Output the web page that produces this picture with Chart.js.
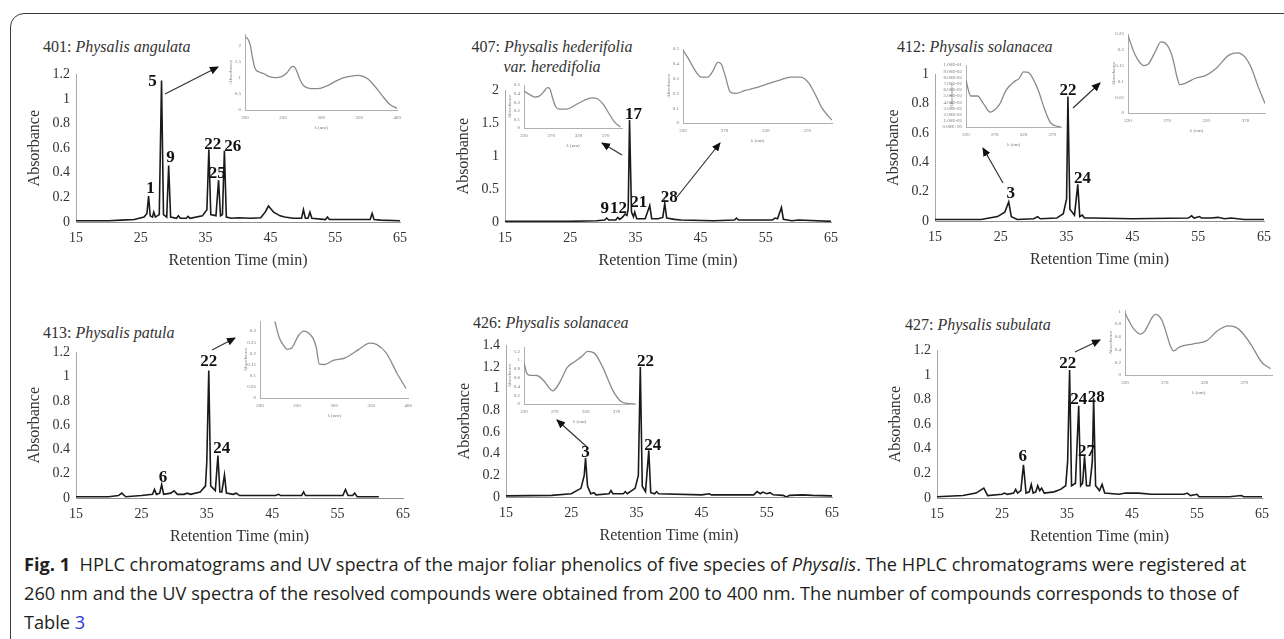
<!DOCTYPE html>
<html>
<head>
<meta charset="utf-8">
<script src="https://cdn.jsdelivr.net/npm/chart.js@4.4.1/dist/chart.umd.min.js"></script>
<style>
  body { margin: 0; width: 1284px; height: 639px; overflow: hidden; background: #fff; position: relative; }
  #frame { position: absolute; left: 10px; top: 13px; width: 1320px; height: 700px; border: 1.5px solid #3a3a3a; border-radius: 14px; }
  canvas { position: absolute; }
  .ttl { position: absolute; font: 16px 'Liberation Serif'; color: #333; white-space: nowrap; line-height: 20px; }
  .cap { position: absolute; left: 24px; font: 18.2px 'Open Sans'; color: #231f20; white-space: nowrap; line-height: 20px; }
  .cap a { color: #2a3cd6; text-decoration: none; }
  svg { position: absolute; left: 0; top: 0; }
</style>
</head>
<body>
<div id="frame"></div>

<div class="ttl" style="left:43px;top:37px">401: <i>Physalis angulata</i></div>
<div class="ttl" style="left:452px;top:37px;width:200px;text-align:center">407: <i>Physalis hederifolia</i><br><i>var. heredifolia</i></div>
<div class="ttl" style="left:897px;top:37px">412: <i>Physalis solanacea</i></div>
<div class="ttl" style="left:43px;top:323px">413: <i>Physalis patula</i></div>
<div class="ttl" style="left:473px;top:313px">426: <i>Physalis solanacea</i></div>
<div class="ttl" style="left:905px;top:315px">427: <i>Physalis subulata</i></div>

<div class="cap" style="top:554px"><b>Fig. 1</b>&nbsp; HPLC chromatograms and UV spectra of the major foliar phenolics of five species of <i>Physalis</i>. The HPLC chromatograms were registered at</div>
<div class="cap" style="top:583px">260 nm and the UV spectra of the resolved compounds were obtained from 200 to 400 nm. The number of compounds corresponds to those of</div>
<div class="cap" style="top:612px">Table <a>3</a></div>

<script>
// chromatograms: [retention time (min), absorbance]
var trace401 = [[15,0.01],[20,0.01],[22,0.015],[24,0.02],[25.5,0.04],[25.95,0.07],[26.2,0.21],[26.45,0.05],[26.8,0.04],[27.0,0.08],[27.25,0.04],[27.85,0.06],[28.2,1.15],[28.5,0.06],[29.0,0.04],[29.3,0.46],[29.6,0.04],[30.5,0.03],[30.8,0.05],[31.1,0.03],[32.0,0.03],[32.3,0.045],[32.6,0.03],[34.5,0.05],[35.2,0.1],[35.5,0.59],[35.8,0.06],[36.6,0.05],[37.0,0.34],[37.3,0.05],[37.6,0.06],[37.9,0.58],[38.2,0.04],[39,0.03],[40,0.035],[42,0.03],[43.5,0.035],[44.2,0.08],[44.7,0.13],[45.5,0.08],[46.5,0.05],[47.2,0.04],[48.5,0.03],[49.8,0.03],[50.1,0.1],[50.4,0.03],[50.8,0.03],[51.1,0.08],[51.4,0.03],[53.5,0.02],[53.8,0.04],[54.1,0.02],[56,0.02],[60.4,0.02],[60.7,0.07],[61,0.02],[62,0.015],[65,0.01]];
var trace407 = [[15,0.01],[25,0.01],[29,0.02],[30.3,0.03],[30.6,0.06],[30.9,0.03],[32,0.03],[32.3,0.07],[32.6,0.04],[33.1,0.08],[33.4,0.12],[33.7,0.1],[33.9,0.2],[34.1,1.55],[34.4,0.15],[34.7,0.08],[34.9,0.15],[35.2,0.05],[36.5,0.05],[37.2,0.25],[37.5,0.05],[38.5,0.05],[39.2,0.07],[39.5,0.28],[39.8,0.06],[41,0.04],[42,0.03],[47,0.02],[50.2,0.03],[50.5,0.06],[50.8,0.03],[56,0.03],[56.4,0.06],[56.8,0.05],[57.4,0.22],[57.7,0.04],[59,0.02],[60,0.03],[65,0.01]];
var trace412 = [[15,0.01],[22,0.01],[24.5,0.03],[25.6,0.06],[26.2,0.13],[26.6,0.03],[27.5,0.01],[30,0.015],[30.6,0.03],[31,0.015],[33.5,0.02],[34.5,0.05],[35.0,0.15],[35.2,0.85],[35.5,0.08],[36.2,0.04],[36.7,0.25],[37,0.03],[37.4,0.04],[37.7,0.02],[39,0.02],[45,0.015],[53.5,0.02],[54,0.035],[54.4,0.02],[55.2,0.03],[55.5,0.02],[57,0.02],[58,0.025],[59,0.015],[60,0.02],[62,0.01],[65,0.01]];
var trace413 = [[15,0.01],[20,0.01],[21.5,0.02],[22,0.04],[22.6,0.01],[25,0.02],[26.7,0.03],[27,0.07],[27.3,0.03],[27.8,0.04],[28.1,0.11],[28.4,0.03],[29.5,0.04],[30,0.06],[30.5,0.03],[31.5,0.03],[32,0.04],[32.5,0.03],[34,0.05],[34.8,0.1],[35.0,0.3],[35.3,1.05],[35.6,0.1],[36.3,0.06],[36.7,0.35],[37,0.05],[37.3,0.05],[37.7,0.19],[38,0.04],[39,0.03],[39.5,0.04],[40,0.02],[45.5,0.02],[46,0.03],[46.3,0.02],[49.5,0.02],[49.8,0.05],[50.1,0.02],[55.8,0.02],[56.2,0.07],[56.6,0.02],[57.3,0.02],[57.6,0.04],[58,0.01],[61.3,0.01]];
var trace426 = [[15,0.01],[22,0.015],[25,0.03],[26.5,0.08],[27.0,0.2],[27.2,0.36],[27.5,0.1],[28,0.03],[28.5,0.04],[28.8,0.02],[30.8,0.03],[31.1,0.06],[31.4,0.03],[33,0.03],[33.3,0.05],[33.6,0.03],[34.8,0.08],[35.3,0.2],[35.6,1.2],[35.9,0.1],[36.4,0.05],[36.9,0.43],[37.2,0.04],[37.8,0.03],[38.1,0.05],[38.4,0.03],[45,0.02],[46.2,0.03],[46.5,0.02],[53,0.02],[53.5,0.05],[54,0.03],[54.4,0.045],[55,0.03],[55.5,0.04],[56,0.02],[57.5,0.015],[58,0.0],[58.5,0.015],[60.5,0.02],[62,0.015],[65,0.01]];
var trace427 = [[15,0.01],[19,0.02],[21,0.04],[22.2,0.08],[22.8,0.02],[25,0.03],[25.4,0.04],[25.8,0.03],[26.8,0.04],[27.1,0.07],[27.4,0.04],[27.9,0.06],[28.3,0.27],[28.7,0.04],[29.2,0.05],[29.5,0.11],[29.8,0.04],[30.2,0.05],[30.5,0.1],[30.8,0.06],[31.1,0.08],[31.5,0.04],[33,0.05],[34,0.07],[34.8,0.1],[35.1,0.3],[35.4,1.04],[35.7,0.1],[36.3,0.12],[36.8,0.75],[37.1,0.1],[37.4,0.12],[37.7,0.34],[38,0.1],[38.5,0.1],[38.9,0.3],[39.1,0.81],[39.4,0.1],[40,0.06],[40.4,0.11],[40.8,0.04],[43,0.03],[44,0.04],[46,0.04],[48,0.03],[53,0.03],[53.5,0.04],[54,0.02],[55,0.03],[55.3,0.01],[60,0.01],[61.8,0.02],[62.2,0.01],[65,0.01]];

// peak numbers: [name, time, absorbance] where each number is written
var peaks401 = [['1',26.5,0.27],['5',26.8,1.14],['9',29.6,0.52],['22',36.1,0.63],['25',36.8,0.39],['26',39.2,0.61]];
var peaks407 = [['9',30.3,0.21],['12',32.4,0.21],['17',34.7,1.63],['21',35.5,0.3],['28',40.2,0.37]];
var peaks412 = [['3',26.5,0.19],['22',35.2,0.89],['24',37.4,0.29]];
var peaks413 = [['6',28.3,0.17],['22',35.3,1.12],['24',37.3,0.41]];
var peaks426 = [['3',27.2,0.41],['22',36.4,1.25],['24',37.5,0.47]];
var peaks427 = [['6',28.2,0.34],['22',35.1,1.09],['24',36.8,0.8],['27',38.0,0.38],['28',39.5,0.82]];

// UV spectra: [wavelength (nm), absorbance]
var uv401 = [[200,2.25],[203,2.22],[207,2.0],[210,1.6],[213,1.3],[218,1.18],[225,1.12],[232,1.03],[240,1.0],[248,1.03],[255,1.15],[261,1.33],[264,1.35],[268,1.2],[272,0.95],[277,0.75],[283,0.68],[292,0.66],[300,0.68],[310,0.77],[320,0.9],[330,1.0],[340,1.05],[348,1.07],[355,1.04],[362,0.95],[370,0.75],[380,0.45],[390,0.18],[400,0.05]];
var uv407a = [[220,0.43],[230,0.39],[240,0.36],[248,0.37],[256,0.42],[263,0.47],[267,0.46],[272,0.36],[278,0.25],[285,0.22],[298,0.22],[315,0.27],[330,0.32],[345,0.35],[355,0.34],[365,0.28],[375,0.18],[385,0.08],[397,0.01]];
var uv407b = [[220,0.49],[226,0.44],[234,0.36],[242,0.31],[250,0.31],[256,0.35],[262,0.41],[266,0.4],[271,0.32],[277,0.21],[284,0.2],[295,0.22],[306,0.235],[320,0.26],[337,0.29],[350,0.31],[362,0.31],[372,0.27],[380,0.19],[388,0.1],[395,0.05],[400,0.02]];
var uv412a = [[220,0.076],[224,0.06],[228,0.05],[240,0.05],[250,0.038],[262,0.024],[270,0.028],[278,0.036],[290,0.06],[305,0.074],[312,0.078],[320,0.089],[328,0.088],[338,0.075],[346,0.058],[356,0.03],[366,0.008],[375,0.002],[385,0]];
var uv412b = [[220,0.245],[228,0.19],[235,0.16],[240,0.15],[246,0.155],[255,0.195],[262,0.225],[270,0.215],[277,0.175],[282,0.12],[286,0.09],[292,0.093],[306,0.11],[319,0.118],[332,0.14],[349,0.183],[360,0.19],[370,0.175],[378,0.14],[386,0.085],[395,0.03]];
var uv413 = [[220,0.343],[226,0.27],[232,0.235],[237,0.218],[243,0.225],[252,0.28],[259,0.3],[266,0.29],[272,0.265],[276,0.225],[280,0.152],[287,0.15],[298,0.167],[315,0.18],[333,0.217],[348,0.246],[357,0.24],[370,0.203],[385,0.11],[397,0.043]];
var uv426 = [[220,0.94],[224,0.72],[228,0.66],[241,0.65],[252,0.53],[260,0.38],[266,0.3],[272,0.36],[280,0.55],[290,0.83],[304,0.98],[315,1.1],[323,1.2],[334,1.16],[348,0.83],[364,0.31],[378,0.05],[390,0.01],[400,0]];
var uv427 = [[220,0.97],[225,0.85],[230,0.74],[239,0.64],[245,0.69],[254,0.9],[258,0.95],[266,0.87],[270,0.74],[277,0.46],[281,0.38],[289,0.44],[306,0.49],[323,0.54],[336,0.69],[350,0.77],[363,0.72],[378,0.49],[392,0.2],[403,0.1]];

// tick labels
var rtTicks = [15, 25, 35, 45, 55, 65];
var nmTicks200 = [200, 250, 300, 350, 400];
var nmTicks220 = [220, 270, 320, 370];

var serif = 'Liberation Serif';

function place(rect, m) {
  var c = document.createElement('canvas');
  var w = rect.r - rect.l + m.l + m.r, h = rect.b - rect.t + m.t + m.b;
  c.width = w; c.height = h;
  c.style.left = (rect.l - m.l) + 'px';
  c.style.top = (rect.t - m.t) + 'px';
  c.style.width = w + 'px'; c.style.height = h + 'px';
  document.body.appendChild(c);
  return c;
}

function fixTicks(vals) {
  return function (s) { s.ticks = vals.map(function (v) { return { value: v }; }); };
}
function range(a, b, step) {
  var out = [];
  for (var v = a; v <= b + 1e-9; v += step) out.push(Math.round(v * 1000) / 1000);
  return out;
}
function plain(v) { return String(Math.round(v * 1000) / 1000); }
function sci(v) {
  var p = v.toExponential(2).split('e');
  var e = parseInt(p[1], 10);
  return p[0] + 'E' + (e < 0 ? '-' : '+') + String(Math.abs(e)).padStart(2, '0');
}

var peakLabels = {
  id: 'peakLabels',
  afterDatasetsDraw: function (chart, args, opts) {
    if (!opts.list) return;
    var ctx = chart.ctx, x = chart.scales.x, y = chart.scales.y;
    ctx.save();
    ctx.font = 'bold 17px "' + serif + '"';
    ctx.fillStyle = '#111';
    ctx.textAlign = 'center';
    ctx.textBaseline = 'middle';
    opts.list.forEach(function (p) {
      ctx.fillText(p[0], x.getPixelForValue(p[1]), y.getPixelForValue(p[2]));
    });
    ctx.restore();
  }
};

function chromatogram(rect, trace, yMax, yStep, peaks) {
  var m = { l: 62, t: 12, r: 14, b: 50 };
  var c = place(rect, m);
  new Chart(c, {
    type: 'line',
    data: { datasets: [{ data: trace.map(function (p) { return { x: p[0], y: p[1] }; }), borderColor: '#1a1a1a', borderWidth: 1.6, pointRadius: 0, tension: 0 }] },
    options: {
      responsive: false, animation: false, devicePixelRatio: 1,
      layout: { padding: { top: m.t, right: m.r, left: 0, bottom: 0 } },
      plugins: { legend: { display: false }, tooltip: { enabled: false }, peakLabels: { list: peaks } },
      scales: {
        x: {
          type: 'linear', min: 15, max: 65,
          afterBuildTicks: fixTicks(rtTicks),
          afterFit: function (s) { s.height = m.b; },
          grid: { display: false, drawTicks: false },
          border: { display: true, color: '#8f8f8f', width: 1 },
          ticks: { autoSkip: false, maxRotation: 0, padding: 8, color: '#333', font: { family: serif, size: 14 }, callback: plain },
          title: { display: true, text: 'Retention Time (min)', color: '#333', font: { family: serif, size: 16 }, padding: { top: 0, bottom: 2 } }
        },
        y: {
          type: 'linear', min: 0, max: yMax,
          afterBuildTicks: fixTicks(range(0, yMax, yStep)),
          afterFit: function (s) { s.width = m.l; },
          grid: { display: false, drawTicks: false },
          border: { display: true, color: '#a8a8a8', width: 1 },
          ticks: { autoSkip: false, padding: 6, color: '#333', font: { family: serif, size: 14 }, callback: plain },
          title: { display: true, text: 'Absorbance', color: '#333', font: { family: serif, size: 16 }, padding: { top: 11, bottom: 0 } }
        }
      }
    },
    plugins: [peakLabels]
  });
}

function spectrum(rect, pts, xMin, xMax, xTicks, yMax, yTicks, fmt, left) {
  var m = { l: left || 24, t: 5, r: 4, b: 24 };
  var c = place(rect, m);
  new Chart(c, {
    type: 'line',
    data: { datasets: [{ data: pts.map(function (p) { return { x: p[0], y: p[1] }; }), borderColor: '#8a8a8a', borderWidth: 1.3, pointRadius: 0, tension: 0.4, cubicInterpolationMode: 'monotone' }] },
    options: {
      responsive: false, animation: false, devicePixelRatio: 1,
      layout: { padding: { top: m.t, right: m.r, left: 0, bottom: 0 } },
      plugins: { legend: { display: false }, tooltip: { enabled: false } },
      scales: {
        x: {
          type: 'linear', min: xMin, max: xMax,
          afterBuildTicks: fixTicks(xTicks),
          afterFit: function (s) { s.height = m.b; },
          grid: { display: false, drawTicks: false },
          border: { display: true, color: '#b0b0b0', width: 1 },
          ticks: { autoSkip: false, maxRotation: 0, padding: 5, color: '#777', font: { family: serif, size: 5 }, callback: plain },
          title: { display: true, text: 'λ (nm)', color: '#777', font: { family: serif, size: 5 }, padding: { top: 0, bottom: 3 } }
        },
        y: {
          type: 'linear', min: 0, max: yMax,
          afterBuildTicks: fixTicks(yTicks),
          afterFit: function (s) { s.width = m.l; },
          grid: { display: false, drawTicks: false },
          border: { display: true, color: '#b0b0b0', width: 1 },
          ticks: { autoSkip: false, padding: 4, color: '#777', font: { family: serif, size: 5 }, callback: fmt || plain },
          title: { display: true, text: 'Absorbance', color: '#777', font: { family: serif, size: 5 }, padding: { top: m.l - 17, bottom: 0 } }
        }
      }
    }
  });
}

// main chromatograms
chromatogram({ l: 76, t: 72, r: 401, b: 222 }, trace401, 1.2, 0.2, peaks401);
chromatogram({ l: 505, t: 88, r: 832, b: 222 }, trace407, 2, 0.5, peaks407);
chromatogram({ l: 935, t: 72, r: 1265, b: 221 }, trace412, 1, 0.2, peaks412);
chromatogram({ l: 76, t: 350, r: 404, b: 498 }, trace413, 1.2, 0.2, peaks413);
chromatogram({ l: 506, t: 343, r: 833, b: 497 }, trace426, 1.4, 0.2, peaks426);
chromatogram({ l: 937, t: 348, r: 1263, b: 498 }, trace427, 1.2, 0.2, peaks427);

// inset spectra
spectrum({ l: 245, t: 32, r: 402, b: 110 }, uv401, 200, 400, nmTicks200, 2.35, range(0, 2, 0.5));
spectrum({ l: 524, t: 83, r: 622, b: 128 }, uv407a, 220, 400, nmTicks220, 0.5, range(0, 0.5, 0.1));
spectrum({ l: 683, t: 47, r: 832, b: 123 }, uv407b, 220, 400, nmTicks220, 0.5, range(0, 0.5, 0.1));
spectrum({ l: 966, t: 63, r: 1061, b: 127 }, uv412a, 220, 385, nmTicks220, 0.1, range(0, 0.1, 0.01), sci, 30);
spectrum({ l: 1128, t: 32, r: 1265, b: 113 }, uv412b, 220, 395, nmTicks220, 0.25, range(0, 0.25, 0.05));
spectrum({ l: 260, t: 319, r: 413, b: 398 }, uv413, 200, 400, nmTicks200, 0.345, range(0, 0.3, 0.05));
spectrum({ l: 524, t: 345, r: 635, b: 404 }, uv426, 220, 400, nmTicks220, 1.3, range(0, 1.2, 0.2));
spectrum({ l: 1125, t: 308, r: 1272, b: 375 }, uv427, 220, 405, nmTicks220, 1.02, range(0, 1, 0.2));

// arrows from peak numbers to their spectra
var arrows = [[165,94,218,67],[622,155,602,143],[677,197,720,143],[1003,183,983,148],[1073,108,1100,83],[212,350,235,338],[587,447,557,420],[1075,352,1100,340]];
var ns = 'http://www.w3.org/2000/svg';
var svg = document.createElementNS(ns, 'svg');
svg.setAttribute('width', 1284); svg.setAttribute('height', 639);
svg.innerHTML = '<defs><marker id="ah" markerWidth="9" markerHeight="8" refX="8" refY="4" orient="auto" markerUnits="userSpaceOnUse"><path d="M0,0 L9,4 L0,8 z" fill="#111"/></marker></defs>';
arrows.forEach(function (a) {
  var l = document.createElementNS(ns, 'line');
  l.setAttribute('x1', a[0]); l.setAttribute('y1', a[1]); l.setAttribute('x2', a[2]); l.setAttribute('y2', a[3]);
  l.setAttribute('stroke', '#333'); l.setAttribute('stroke-width', '1.2'); l.setAttribute('marker-end', 'url(#ah)');
  svg.appendChild(l);
});
document.body.appendChild(svg);
</script>
</body>
</html>
